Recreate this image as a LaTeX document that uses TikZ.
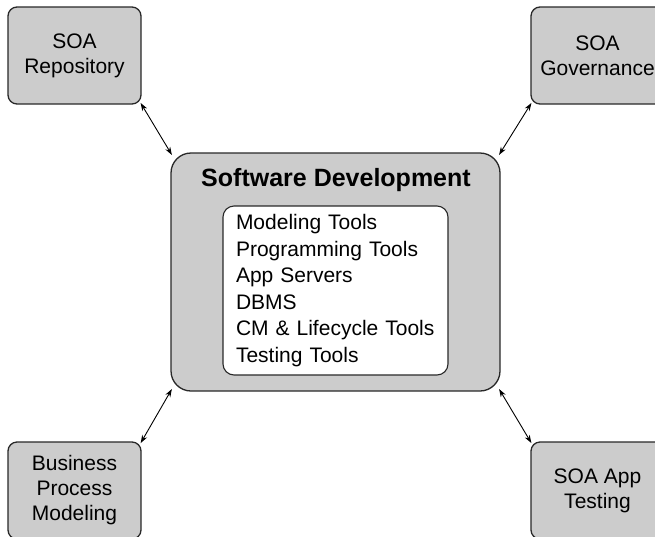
\documentclass[tikz,border=0pt]{standalone}
\usepackage{fontspec}
\setmainfont{Liberation Sans}
\usetikzlibrary{arrows.meta}

\definecolor{boxgray}{RGB}{204,204,204}
\definecolor{boxline}{RGB}{40,40,40}

\tikzset{
  outerbox/.style={draw=boxline, fill=boxgray, line width=1.3pt,
    rounded corners=9pt, minimum width=133pt, minimum height=97pt,
    align=center, inner sep=0pt, font=\fontsize{21}{25}\selectfont},
  devbox/.style={draw=boxline, fill=boxgray, line width=1.3pt,
    rounded corners=20pt, minimum width=329pt, minimum height=238pt},
  toolbox/.style={draw=boxline, fill=white, line width=1.1pt,
    rounded corners=11pt, minimum width=225pt, minimum height=169pt,
    text width=199pt, align=left, inner sep=0pt,
    font=\fontsize{21}{26.5}\selectfont},
  link/.style={{Stealth[length=8pt,width=5.5pt]}-{Stealth[length=8pt,width=5.5pt]}, line width=0.9pt}
}

\begin{document}
\begin{tikzpicture}[x=1pt, y=-1pt]
    \useasboundingbox (0,0) rectangle (655,536);

    % Caja central
    \node[devbox] (dev) at (335.5,272) {};
    \node[font=\bfseries\fontsize{25}{28}\selectfont] (devtitle) at (336,180) {Software Development};
    \node[toolbox] (tools) at (335.5,290.5) {Modeling Tools\\ Programming Tools\\ App Servers\\ DBMS\\ CM \& Lifecycle Tools\\ Testing Tools};

    % Cajas de las esquinas
    \node[outerbox] (repo) at (74.5,55.5) {SOA\\ Repository};
    \node[outerbox] (gov) at (597.5,55.5) {SOA\\ Governance};
    \node[outerbox] (bpm) at (74.5,490.5) {Business\\ Process\\ Modeling};
    \node[outerbox] (apptest) at (597.5,490.5) {SOA App\\ Testing};

    % Conexiones
    \draw[link, shorten <=-2pt, shorten >=-3pt] (repo.south east) -- (dev.north west);
    \draw[link, shorten <=-2pt, shorten >=-3pt] (gov.south west) -- (dev.north east);
    \draw[link, shorten <=-2pt, shorten >=-3pt] (bpm.north east) -- (dev.south west);
    \draw[link, shorten <=-2pt, shorten >=-3pt] (apptest.north west) -- (dev.south east);

\end{tikzpicture}
\end{document}
